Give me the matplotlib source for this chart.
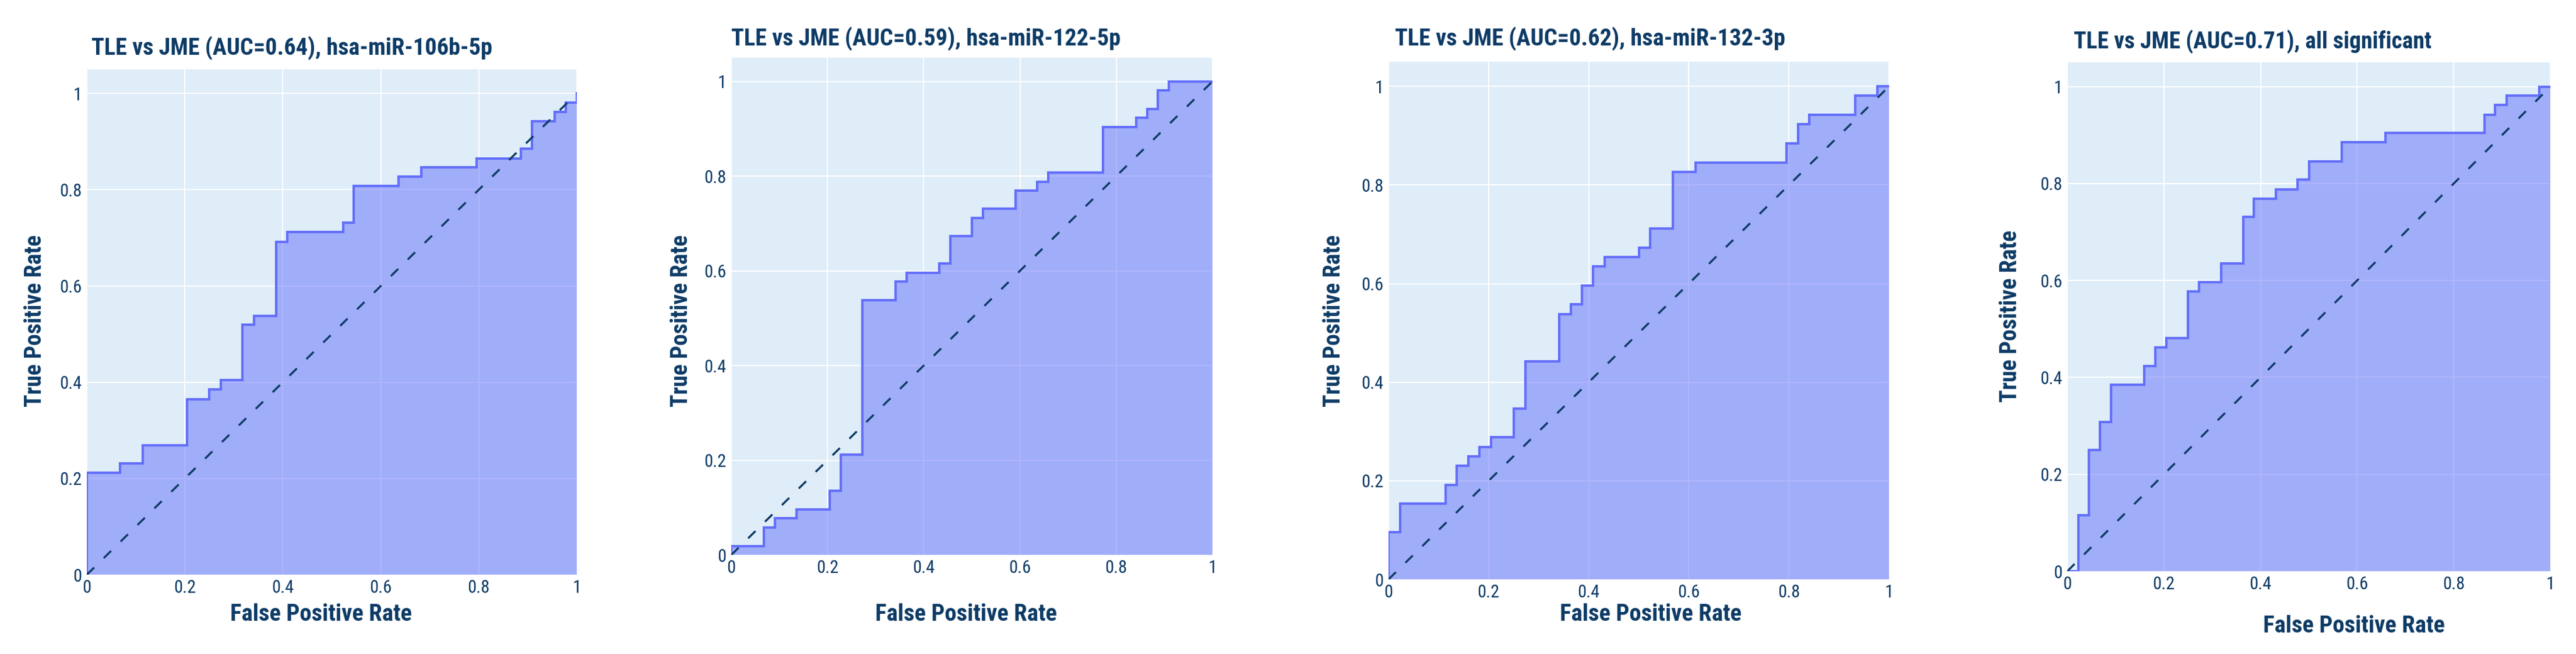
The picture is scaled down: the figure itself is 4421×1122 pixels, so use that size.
import os
import numpy as np
import matplotlib
matplotlib.use("Agg")
import matplotlib.pyplot as plt
from matplotlib import font_manager as fm

# ROC corner points
titles = ["TLE vs JME (AUC=0.64), hsa-miR-106b-5p",
          "TLE vs JME (AUC=0.59), hsa-miR-122-5p",
          "TLE vs JME (AUC=0.62), hsa-miR-132-3p",
          "TLE vs JME (AUC=0.71), all significant"]

fpr_106b = [0, 0, 0.068, 0.068, 0.114, 0.114, 0.205, 0.205, 0.250, 0.250, 0.273, 0.273,
            0.318, 0.318, 0.341, 0.341, 0.386, 0.386, 0.409, 0.409, 0.523, 0.523, 0.545, 0.545,
            0.636, 0.636, 0.682, 0.682, 0.795, 0.795, 0.886, 0.886, 0.909, 0.909, 0.955, 0.955,
            0.977, 0.977, 1.0, 1.0]
tpr_106b = [0, 0.212, 0.212, 0.231, 0.231, 0.269, 0.269, 0.365, 0.365, 0.385, 0.385, 0.404,
            0.404, 0.519, 0.519, 0.538, 0.538, 0.692, 0.692, 0.712, 0.712, 0.731, 0.731, 0.808,
            0.808, 0.827, 0.827, 0.846, 0.846, 0.865, 0.865, 0.885, 0.885, 0.942, 0.942, 0.962,
            0.962, 0.981, 0.981, 1.0]

fpr_122 = [0, 0, 0.068, 0.068, 0.091, 0.091, 0.136, 0.136, 0.205, 0.205, 0.227, 0.227,
           0.273, 0.273, 0.341, 0.341, 0.364, 0.364, 0.432, 0.432, 0.455, 0.455, 0.500, 0.500,
           0.523, 0.523, 0.591, 0.591, 0.636, 0.636, 0.659, 0.659, 0.773, 0.773, 0.841, 0.841,
           0.864, 0.864, 0.886, 0.886, 0.909, 0.909, 1.0]
tpr_122 = [0, 0.019, 0.019, 0.058, 0.058, 0.077, 0.077, 0.096, 0.096, 0.135, 0.135, 0.212,
           0.212, 0.538, 0.538, 0.577, 0.577, 0.596, 0.596, 0.615, 0.615, 0.673, 0.673, 0.712,
           0.712, 0.731, 0.731, 0.769, 0.769, 0.788, 0.788, 0.808, 0.808, 0.904, 0.904, 0.923,
           0.923, 0.942, 0.942, 0.981, 0.981, 1.0, 1.0]

fpr_132 = [0, 0, 0.023, 0.023, 0.114, 0.114, 0.136, 0.136, 0.159, 0.159, 0.182, 0.182,
           0.205, 0.205, 0.250, 0.250, 0.273, 0.273, 0.341, 0.341, 0.364, 0.364, 0.386, 0.386,
           0.409, 0.409, 0.432, 0.432, 0.500, 0.500, 0.523, 0.523, 0.568, 0.568, 0.614, 0.614,
           0.795, 0.795, 0.818, 0.818, 0.841, 0.841, 0.932, 0.932, 0.977, 0.977, 1.0]
tpr_132 = [0, 0.096, 0.096, 0.154, 0.154, 0.192, 0.192, 0.231, 0.231, 0.250, 0.250, 0.269,
           0.269, 0.288, 0.288, 0.346, 0.346, 0.442, 0.442, 0.538, 0.538, 0.558, 0.558, 0.596,
           0.596, 0.635, 0.635, 0.654, 0.654, 0.673, 0.673, 0.712, 0.712, 0.827, 0.827, 0.846,
           0.846, 0.885, 0.885, 0.923, 0.923, 0.942, 0.942, 0.981, 0.981, 1.0, 1.0]

fpr_all = [0, 0.023, 0.023, 0.045, 0.045, 0.068, 0.068, 0.091, 0.091, 0.159, 0.159, 0.182,
           0.182, 0.205, 0.205, 0.250, 0.250, 0.273, 0.273, 0.318, 0.318, 0.364, 0.364, 0.386,
           0.386, 0.432, 0.432, 0.477, 0.477, 0.500, 0.500, 0.568, 0.568, 0.659, 0.659, 0.864,
           0.864, 0.886, 0.886, 0.909, 0.909, 0.977, 0.977, 1.0]
tpr_all = [0, 0, 0.115, 0.115, 0.250, 0.250, 0.308, 0.308, 0.385, 0.385, 0.423, 0.423,
           0.462, 0.462, 0.481, 0.481, 0.577, 0.577, 0.596, 0.596, 0.635, 0.635, 0.731, 0.731,
           0.769, 0.769, 0.788, 0.788, 0.808, 0.808, 0.846, 0.846, 0.885, 0.885, 0.904, 0.904,
           0.942, 0.942, 0.962, 0.962, 0.981, 0.981, 1.0, 1.0]

curves = [(fpr_106b, tpr_106b), (fpr_122, tpr_122), (fpr_132, tpr_132), (fpr_all, tpr_all)]
tick_vals = [0, 0.2, 0.4, 0.6, 0.8, 1]
tick_text = ["0", "0.2", "0.4", "0.6", "0.8", "1"]

W, H = 4421, 1122
navy = "#0d3b66"
bg = "#dfedf8"
line_col = "#636efa"


def pick_font(bold):
    # narrowest installed face first, the picture uses a very condensed type
    files = [f.fname for f in fm.fontManager.ttflist]
    if bold:
        wants = ["NotoSans-ExtraCondensedBold", "NotoSans-ExtraCondensedSemiBold",
                 "RobotoCondensed-Bold", "LiberationSansNarrow-Bold", "NotoSans-CondensedBold",
                 "OpenSans_Condensed-Bold", "OpenSansCondensed-Bold", "DejaVuSansCondensed-Bold"]
    else:
        wants = ["NotoSans-ExtraCondensedMedium", "NotoSans-ExtraCondensed.",
                 "RobotoCondensed-Regular", "LiberationSansNarrow-Regular",
                 "NotoSans-Condensed.", "OpenSans_Condensed-Regular", "DejaVuSansCondensed."]
    for w in wants:
        for f in files:
            if os.path.basename(f).startswith(w):
                return fm.FontProperties(fname=f)
    return fm.FontProperties(family="DejaVu Sans", weight="bold" if bold else "normal")


fp_bold = pick_font(True)
fp_reg = pick_font(False)

# pixel boxes of each plot area: left, top, right, bottom
boxes = [(149, 119, 990, 986), (1255, 99, 2081, 952), (2383, 106, 3242, 994), (3548, 107, 4377, 980)]
# title left / baseline / width, xlabel centre / baseline / width, ylabel centre x / y / length
title_pos = [(157, 94, 655), (1255, 78, 638), (2394, 78, 638), (3559, 83, 586)]
xlab_pos = [(551, 1065, 297), (1658, 1065, 297), (2833, 1065, 297), (4040, 1085, 297)]
ylab_pos = [(60, 550, 282), (1169, 550, 282), (2289, 550, 282), (3450, 542, 282)]

fig = plt.figure(figsize=(W / 100, H / 100), dpi=100)
renderer = fig.canvas.get_renderer()


def fit(txt, target, vertical=False, max_size=34, slack=1.05):
    # size the text to roughly the length it has in the picture
    bb = txt.get_window_extent(renderer)
    length = bb.height if vertical else bb.width
    size = txt.get_fontsize() * target * slack / length
    txt.set_fontsize(min(size, max_size))


for i in range(4):
    l, t, r, b = boxes[i]
    ax = fig.add_axes([l / W, 1 - b / H, (r - l) / W, (b - t) / H])
    ax.set_facecolor(bg)
    for s in ax.spines.values():
        s.set_visible(False)
    ax.set_xlim(0, 1)
    ax.set_ylim(0, 1.05)
    ax.set_xticks(tick_vals)
    ax.set_xticklabels(tick_text)
    ax.set_yticks(tick_vals)
    ax.set_yticklabels(tick_text)
    ax.tick_params(length=0, pad=6, labelcolor=navy)
    for lab in ax.get_xticklabels() + ax.get_yticklabels():
        lab.set_fontproperties(fp_reg)
        lab.set_fontsize(22)
    ax.grid(True, color="white", lw=1.5)
    ax.set_axisbelow(True)

    x, y = curves[i]
    ax.fill_between(x, y, 0, color=line_col, alpha=0.5, lw=0, zorder=2)
    ax.plot(x, y, color=line_col, lw=3.0, zorder=3, solid_joinstyle="miter")
    ax.plot([0, 1], [0, 1], color=navy, lw=2.5, dashes=(5.1, 6.6), zorder=4)

    tt = fig.text(title_pos[i][0] / W, 1 - title_pos[i][1] / H, titles[i], ha="left",
                  va="baseline", color=navy, fontproperties=fp_bold, fontsize=34)
    fit(tt, title_pos[i][2])
    xl = fig.text(xlab_pos[i][0] / W, 1 - xlab_pos[i][1] / H, "False Positive Rate", ha="center",
                  va="baseline", color=navy, fontproperties=fp_bold, fontsize=34)
    fit(xl, xlab_pos[i][2])
    yl = fig.text(ylab_pos[i][0] / W, 1 - ylab_pos[i][1] / H, "True Positive Rate", ha="center",
                  va="center", rotation=90, color=navy, fontproperties=fp_bold, fontsize=34)
    fit(yl, ylab_pos[i][2], vertical=True)

fig.savefig("out.png", dpi=100, facecolor="white")
